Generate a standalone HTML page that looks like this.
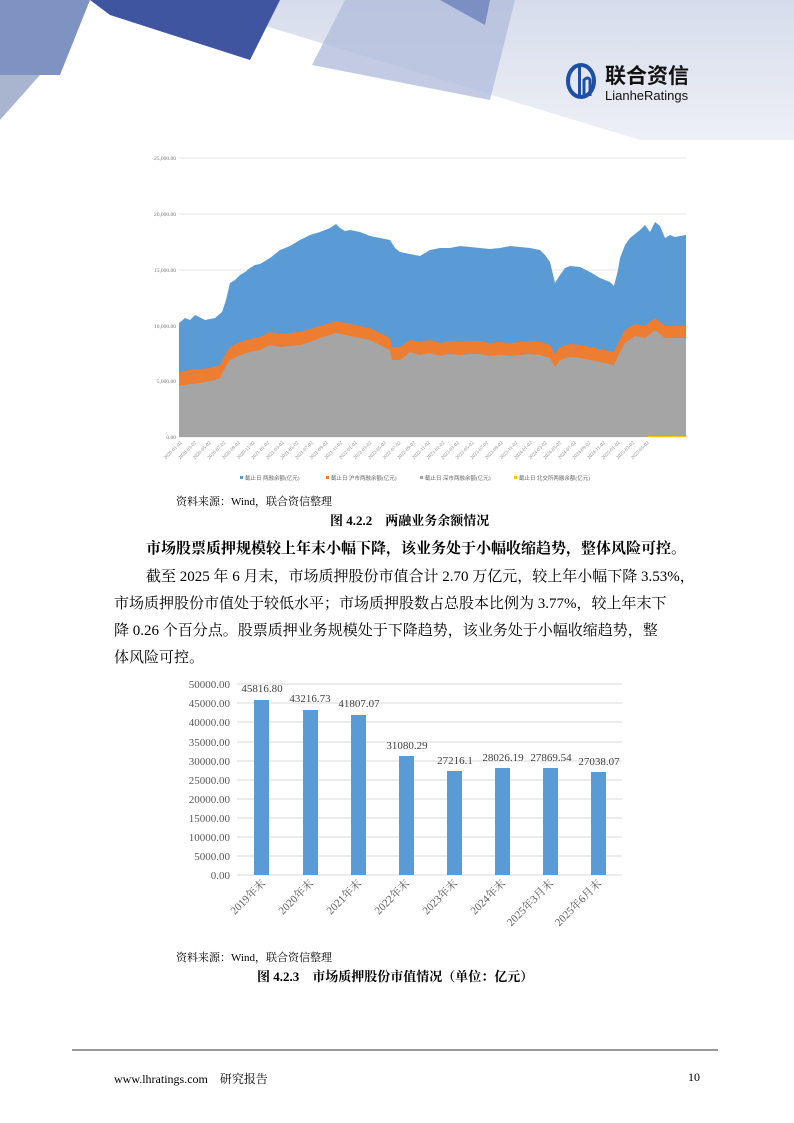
<!DOCTYPE html>
<html><head><meta charset="utf-8"><style>
body{margin:0;width:794px;height:1123px;position:relative;background:#fff;font-family:"Liberation Serif","Noto Serif CJK SC",serif;overflow:hidden}
.t{position:absolute;white-space:nowrap}
</style></head><body>
<svg width="794" height="140" style="position:absolute;left:0;top:0">
<defs><linearGradient id="bg" x1="0" y1="0" x2="0" y2="1"><stop offset="0" stop-color="#d6dcec"/><stop offset="1" stop-color="#eef0f6"/></linearGradient></defs>
<polygon points="180,0 794,0 794,140 640,140" fill="url(#bg)"/>
<polygon points="0,0 90,0 60,75 0,75" fill="#7f93c2"/>
<polygon points="0,75 40,75 0,120" fill="#a9b4cf"/>
<polygon points="90,0 280,0 250,60 110,15" fill="#3f55a0"/>
<polygon points="345,0 515,0 490,100 312,65" fill="#b3bedc" opacity="0.8"/>
<polygon points="440,0 490,0 485,25" fill="#7c8fc2"/>
<ellipse cx="581" cy="81" rx="13" ry="16" fill="none" stroke="#1e4fa3" stroke-width="4"/>
<rect x="578" y="66" width="3" height="30" fill="#1e4fa3"/><path d="M584 96 V80 q4 -4 6 0 V96" fill="none" stroke="#1e4fa3" stroke-width="3"/>
<text x="605" y="83" font-family="Liberation Sans,Noto Sans CJK SC,sans-serif" font-size="21" font-weight="bold" fill="#111">联合资信</text>
<text x="605" y="100" font-family="Liberation Sans,sans-serif" font-size="13" fill="#111">LianheRatings</text>
</svg>

<svg width="794" height="500" style="position:absolute;left:0;top:0" font-family="Liberation Serif,serif">
<g stroke="#e4e4e4" stroke-width="1">
<line x1="179" x2="686" y1="158" y2="158"/><line x1="179" x2="686" y1="214" y2="214"/><line x1="179" x2="686" y1="270" y2="270"/><line x1="179" x2="686" y1="326" y2="326"/><line x1="179" x2="686" y1="381" y2="381"/><line x1="179" x2="686" y1="437" y2="437"/>
</g>
<g font-size="5.5" fill="#777" text-anchor="end">
<text x="176" y="160">25,000.00</text><text x="176" y="216">20,000.00</text><text x="176" y="272">15,000.00</text><text x="176" y="328">10,000.00</text><text x="176" y="383">5,000.00</text><text x="176" y="439">0.00</text>
</g>
<polygon fill="#5b9bd5" points="179,437 179,323 185,318 190,320 195,315 205,320 215,318 222,312 226,300 230,283 235,280 240,275 245,272 250,268 255,265 260,264 265,261 270,258 275,254 280,250 285,248 290,246 300,240 310,235 320,232 330,228 336,224 340,228 345,231 350,230 360,232 370,236 380,238 390,240 395,248 400,252 410,254 420,256 430,250 440,248 450,248 460,246 470,247 480,248 490,249 500,248 510,246 520,247 530,248 540,250 545,255 550,262 555,283 560,275 565,268 570,266 580,267 590,272 600,278 610,282 614,286 618,270 620,258 625,245 630,238 640,230 645,225 650,232 655,222 660,226 665,238 670,235 675,237 680,236 686,235 686,437"/>
<polygon fill="#ed7d31" points="179,437 179,372 190,370 200,369 210,368 220,365 225,355 230,347 240,342 250,339 260,337 270,332 280,334 290,333 300,332 310,329 320,326 330,323 336,321 350,324 360,326 370,328 380,333 390,338 392,347 400,347 410,340 420,342 430,340 440,343 450,341 460,342 470,341 480,341 490,343 500,342 510,343 520,342 530,341 540,342 550,345 555,354 560,347 570,344 580,345 590,347 600,349 614,352 620,339 625,330 635,324 645,326 655,318 665,326 686,326 686,437"/>
<polygon fill="#a5a5a5" points="179,437 179,386 190,384 200,383 210,381 220,378 225,368 230,360 240,355 250,352 260,350 270,345 280,347 290,346 300,345 310,342 320,338 330,335 336,333 350,336 360,338 370,340 380,345 390,350 392,360 400,360 410,352 420,355 430,353 440,356 450,354 460,355 470,354 480,354 490,356 500,355 510,356 520,355 530,354 540,355 550,358 555,367 560,360 570,357 580,358 590,360 600,362 614,365 620,352 625,343 635,336 645,338 655,330 665,338 686,338 686,437"/>
<line x1="648" x2="686" y1="436.5" y2="436.5" stroke="#ffc000" stroke-width="1"/>
<g font-size="5" fill="#888" id="xl"></g>
<g font-size="5.5" fill="#666">
<rect x="240" y="476" width="3" height="3" fill="#5b9bd5"/><text x="245" y="480">截止日 两融余额(亿元)</text>
<rect x="326" y="476" width="3" height="3" fill="#ed7d31"/><text x="331" y="480">截止日 沪市两融余额(亿元)</text>
<rect x="420" y="476" width="3" height="3" fill="#a5a5a5"/><text x="425" y="480">截止日 深市两融余额(亿元)</text>
<rect x="514" y="476" width="3" height="3" fill="#ffc000"/><text x="519" y="480">截止日 北交所两融余额(亿元)</text>
</g>
</svg>

<div class="t" style="left:176px;top:493px;font-size:11px">资料来源：Wind，联合资信整理</div>
<div class="t" style="left:330px;top:510px;font-size:13px;font-weight:bold">图 4.2.2　两融业务余额情况</div>
<div class="t" style="left:146px;top:537px;font-size:15px;font-weight:bold">市场股票质押规模较上年末小幅下降，该业务处于小幅收缩趋势，整体风险可控。</div>
<div class="t" style="left:146px;top:565px;font-size:15px">截至 2025 年 6 月末，市场质押股份市值合计 2.70 万亿元，较上年小幅下降 3.53%，</div>
<div class="t" style="left:114px;top:592px;font-size:15px">市场质押股份市值处于较低水平；市场质押股数占总股本比例为 3.77%，较上年末下</div>
<div class="t" style="left:114px;top:619px;font-size:15px">降 0.26 个百分点。股票质押业务规模处于下降趋势，该业务处于小幅收缩趋势，整</div>
<div class="t" style="left:114px;top:646px;font-size:15px">体风险可控。</div>

<svg width="794" height="1123" style="position:absolute;left:0;top:0" font-family="Liberation Serif,Noto Serif CJK SC,serif">
<g stroke="#d9d9d9"><line x1="237" x2="622" y1="684" y2="684"/><line x1="237" x2="622" y1="703" y2="703"/><line x1="237" x2="622" y1="722" y2="722"/><line x1="237" x2="622" y1="742" y2="742"/><line x1="237" x2="622" y1="761" y2="761"/><line x1="237" x2="622" y1="780" y2="780"/><line x1="237" x2="622" y1="799" y2="799"/><line x1="237" x2="622" y1="818" y2="818"/><line x1="237" x2="622" y1="837" y2="837"/><line x1="237" x2="622" y1="856" y2="856"/><line x1="237" x2="622" y1="875" y2="875"/></g>
<g font-size="11" fill="#595959" text-anchor="end">
<text x="230" y="688">50000.00</text><text x="230" y="707">45000.00</text><text x="230" y="726">40000.00</text><text x="230" y="746">35000.00</text><text x="230" y="765">30000.00</text><text x="230" y="784">25000.00</text><text x="230" y="803">20000.00</text><text x="230" y="822">15000.00</text><text x="230" y="841">10000.00</text><text x="230" y="860">5000.00</text><text x="230" y="879">0.00</text>
</g>
<g fill="#5b9bd5">
<rect x="254" y="700" width="15" height="175"/><rect x="303" y="710" width="15" height="165"/><rect x="351" y="715" width="15" height="160"/><rect x="399" y="756" width="15" height="119"/><rect x="447" y="771" width="15" height="104"/><rect x="495" y="768" width="15" height="107"/><rect x="543" y="768" width="15" height="107"/><rect x="591" y="772" width="15" height="103"/>
</g>
<g font-size="11" fill="#404040" text-anchor="middle">
<text x="262" y="692">45816.80</text><text x="310" y="702">43216.73</text><text x="359" y="707">41807.07</text><text x="407" y="749">31080.29</text><text x="455" y="764">27216.1</text><text x="503" y="761">28026.19</text><text x="551" y="761">27869.54</text><text x="599" y="765">27038.07</text>
</g>
<g font-size="11" fill="#595959" text-anchor="end">
<text transform="translate(266,884) rotate(-45)">2019年末</text>
<text transform="translate(314,884) rotate(-45)">2020年末</text>
<text transform="translate(362,884) rotate(-45)">2021年末</text>
<text transform="translate(410,884) rotate(-45)">2022年末</text>
<text transform="translate(458,884) rotate(-45)">2023年末</text>
<text transform="translate(506,884) rotate(-45)">2024年末</text>
<text transform="translate(554,884) rotate(-45)">2025年3月末</text>
<text transform="translate(602,884) rotate(-45)">2025年6月末</text>
</g>
<line x1="72" x2="718" y1="1050" y2="1050" stroke="#333" stroke-width="1"/>
</svg>
<div class="t" style="left:176px;top:949px;font-size:11px">资料来源：Wind，联合资信整理</div>
<div class="t" style="left:257px;top:966px;font-size:13px;font-weight:bold">图 4.2.3　市场质押股份市值情况（单位：亿元）</div>
<div class="t" style="left:114px;top:1070px;font-size:12px">www.lhratings.com　研究报告</div>
<div class="t" style="left:688px;top:1070px;font-size:12px">10</div>
<script>
var g=document.getElementById('xl'),s='';
var lab=['2020-01-02','2020-03-02','2020-05-02','2020-07-02','2020-09-02','2020-11-02','2021-01-02','2021-03-02','2021-05-02','2021-07-02','2021-09-02','2021-11-02','2022-01-02','2022-03-02','2022-05-02','2022-07-02','2022-09-02','2022-11-02','2023-01-02','2023-03-02','2023-05-02','2023-07-02','2023-09-02','2023-11-02','2024-01-02','2024-03-02','2024-05-02','2024-07-02','2024-09-02','2024-11-02','2025-01-02','2025-03-02','2025-05-02'];
for(var i=0;i<lab.length;i++){var x=182+i*14.6;s+='<text text-anchor="end" transform="translate('+x+',443) rotate(-45)">'+lab[i]+'</text>';}
g.innerHTML=s;
</script>
</body></html>
